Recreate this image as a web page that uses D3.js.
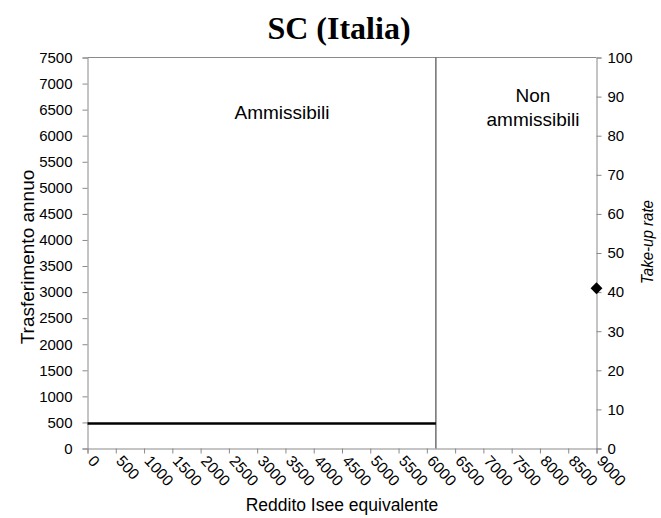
<!DOCTYPE html>
<html>
<head>
<meta charset="utf-8">
<script src="https://cdnjs.cloudflare.com/ajax/libs/d3/7.8.5/d3.min.js"></script>
<style>
  html, body { margin: 0; padding: 0; background: #fff; }
  svg { display: block; }
</style>
</head>
<body>
<script>
// ---- data ----
const xTickValues = [0, 500, 1000, 1500, 2000, 2500, 3000, 3500, 4000, 4500, 5000, 5500, 6000, 6500, 7000, 7500, 8000, 8500, 9000];
const yLeftTickValues = [0, 500, 1000, 1500, 2000, 2500, 3000, 3500, 4000, 4500, 5000, 5500, 6000, 6500, 7000, 7500];
const yRightTickValues = [0, 10, 20, 30, 40, 50, 60, 70, 80, 90, 100];
const trasferimentoX = [0, 6160];
const trasferimentoY = [480, 480];
const sogliaIsee = [6160];
const takeUpX = [9000];
const takeUpRate = [41];
const zoneLabels = ["Ammissibili", "Non ammissibili"];

const W = 661, H = 518;
const margin = { left: 87.5, right: 661 - 596.5, top: 57.5, bottom: 518 - 448.5 };
const iw = W - margin.left - margin.right;
const ih = H - margin.top - margin.bottom;

const svg = d3.select("body").append("svg").attr("width", W).attr("height", H);
const g = svg.append("g").attr("transform", `translate(${margin.left},${margin.top})`);

const x = d3.scaleLinear().domain([0, 9000]).range([0, iw]);
const yL = d3.scaleLinear().domain([0, 7500]).range([ih, 0]);
const yR = d3.scaleLinear().domain([0, 100]).range([ih, 0]);

const axisColor = "#8a8a8a";
const font = "'Liberation Sans', Arial, sans-serif";

// top border
g.append("line").attr("x1", 0).attr("x2", iw).attr("y1", 0).attr("y2", 0)
  .attr("stroke", axisColor).attr("stroke-width", 1);

// left axis
const axL = g.append("g").call(d3.axisLeft(yL).tickValues(yLeftTickValues).tickSize(5).tickPadding(10).tickFormat(d3.format("d")));
// right axis
const axR = g.append("g").attr("transform", `translate(${iw},0)`)
  .call(d3.axisRight(yR).tickValues(yRightTickValues).tickSize(5).tickPadding(6).tickFormat(d3.format("d")));
// bottom axis
const axB = g.append("g").attr("transform", `translate(0,${ih})`)
  .call(d3.axisBottom(x).tickValues(xTickValues).tickSize(5).tickFormat(d3.format("d")));

[axL, axR, axB].forEach(a => {
  a.select(".domain").attr("stroke", axisColor);
  a.selectAll(".tick line").attr("stroke", axisColor);
  a.selectAll(".tick text").attr("fill", "#000").style("font-family", font).style("font-size", "15px");
});
axB.selectAll(".tick text")
  .attr("text-anchor", "start")
  .attr("dy", null)
  .attr("y", 0)
  .attr("transform", "translate(-1,13) rotate(48)")
  .style("font-size", "15.5px");

// threshold line
g.selectAll(".soglia").data(sogliaIsee).enter().append("line")
  .attr("class", "soglia")
  .attr("x1", d => x(d)).attr("x2", d => x(d))
  .attr("y1", 0).attr("y2", ih)
  .attr("stroke", "#5a5a5a").attr("stroke-width", 1.3);

// transfer line
const lineData = trasferimentoX.map((d, i) => [d, trasferimentoY[i]]);
g.append("path").datum(lineData)
  .attr("d", d3.line().x(d => x(d[0])).y(d => yL(d[1])))
  .attr("fill", "none").attr("stroke", "#000").attr("stroke-width", 2.5);

// take-up diamond
g.selectAll(".takeup").data(takeUpX.map((d, i) => [d, takeUpRate[i]])).enter().append("path")
  .attr("class", "takeup")
  .attr("transform", d => `translate(${x(d[0])},${yR(d[1])})`)
  .attr("d", d3.symbol().type(d3.symbolDiamond2).size(90))
  .attr("fill", "#000");

// zone labels
svg.append("text").attr("x", 282).attr("y", 119)
  .attr("text-anchor", "middle").style("font-family", font).style("font-size", "19px")
  .text(zoneLabels[0]);
const nonParts = zoneLabels[1].split(" ");
svg.append("text").attr("y", 102)
  .attr("text-anchor", "middle").style("font-family", font).style("font-size", "19px")
  .selectAll("tspan").data(nonParts).enter().append("tspan")
  .attr("x", 533).attr("dy", (d, i) => i === 0 ? 0 : 24).text(d => d);

// axis titles
svg.append("text")
  .attr("transform", `translate(34,${margin.top + ih / 2 + 4}) rotate(-90)`)
  .attr("text-anchor", "middle").style("font-family", font).style("font-size", "19px")
  .text("Trasferimento annuo");
svg.append("text")
  .attr("transform", `translate(653,${margin.top + ih / 2 - 11}) rotate(-90)`)
  .attr("text-anchor", "middle").style("font-family", font).style("font-size", "17px")
  .style("font-style", "italic")
  .attr("textLength", 84).attr("lengthAdjust", "spacingAndGlyphs")
  .text("Take-up rate");
svg.append("text")
  .attr("x", 342).attr("y", 511)
  .attr("text-anchor", "middle").style("font-family", font).style("font-size", "17.5px")
  .text("Reddito Isee equivalente");

// title
svg.append("text")
  .attr("x", 339).attr("y", 39)
  .attr("text-anchor", "middle")
  .style("font-family", "'Liberation Serif', 'Times New Roman', serif")
  .style("font-weight", "bold").style("font-size", "32px")
  .text("SC (Italia)");
</script>
</body>
</html>
